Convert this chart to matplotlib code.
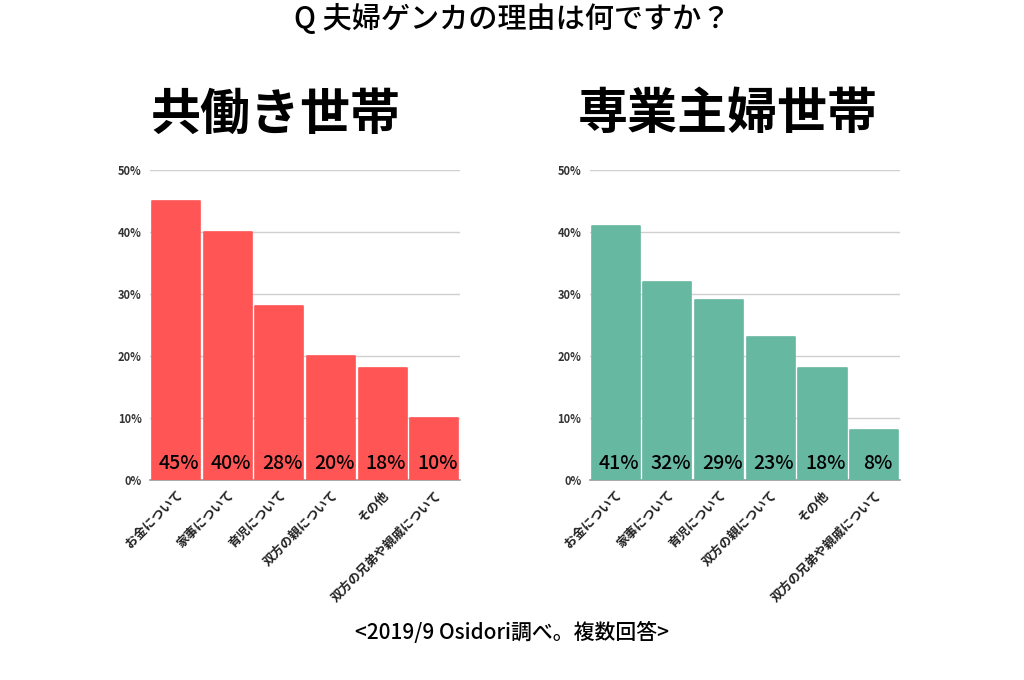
import matplotlib
matplotlib.use('Agg')
import matplotlib.pyplot as plt

plt.rcParams['font.family'] = ['Noto Sans CJK JP', 'DejaVu Sans']

categories = ['お金について', '家事について', '育児について', '双方の親について',
              'その他', '双方の兄弟や親戚について']
dual_income = [45, 40, 28, 20, 18, 10]
housewife = [41, 32, 29, 23, 18, 8]
yticks = [0, 10, 20, 30, 40, 50]

fig = plt.figure(figsize=(10.24, 6.8), dpi=100)
fig.patch.set_facecolor('white')


def draw_panel(ax, values, color):
    x = range(len(values))
    ax.bar(x, values, width=0.93, color=color, edgecolor=color,
           linewidth=1.2, joinstyle='round', zorder=3)
    for i, v in enumerate(values):
        ax.text(i + 0.06, 1.2, f'{v}%', ha='center', va='bottom',
                fontsize=14, fontweight='medium', color='black', zorder=4)
    ax.set_xlim(-0.5, len(values) - 0.5)
    ax.set_ylim(0, 50)
    ax.set_yticks(yticks)
    ax.set_yticklabels([f'{t}%' for t in yticks], fontsize=8,
                       fontweight='bold', color='#333333')
    ax.set_xticks(list(x))
    ax.set_xticklabels(categories, rotation=45, ha='right',
                       rotation_mode='anchor', fontsize=9, fontweight='bold',
                       color='#222222')
    ax.grid(axis='y', color='#d0d0d0', linewidth=1, zorder=0)
    for s in ['top', 'right', 'left']:
        ax.spines[s].set_visible(False)
    ax.spines['bottom'].set_color('#9a9a9a')
    ax.spines['bottom'].set_linewidth(1.2)
    ax.tick_params(axis='both', length=0, pad=6)


ax1 = fig.add_axes([0.1465, 0.294, 0.303, 0.456])
draw_panel(ax1, dual_income, '#ff5555')

ax2 = fig.add_axes([0.576, 0.294, 0.303, 0.456])
draw_panel(ax2, housewife, '#66b8a0')

fig.text(0.2695, 0.831, '共働き世帯', ha='center', va='center',
         fontsize=36, fontweight='bold')
fig.text(0.711, 0.831, '専業主婦世帯', ha='center', va='center',
         fontsize=36, fontweight='bold')

fig.text(0.5, 0.972, 'Q 夫婦ゲンカの理由は何ですか？', ha='center', va='center',
         fontsize=21, fontweight='medium')
fig.text(0.5, 0.069, '<2019/9 Osidori調べ。複数回答>', ha='center', va='center',
         fontsize=15, fontweight='medium')

fig.savefig('out.png', dpi=100, facecolor='white')
